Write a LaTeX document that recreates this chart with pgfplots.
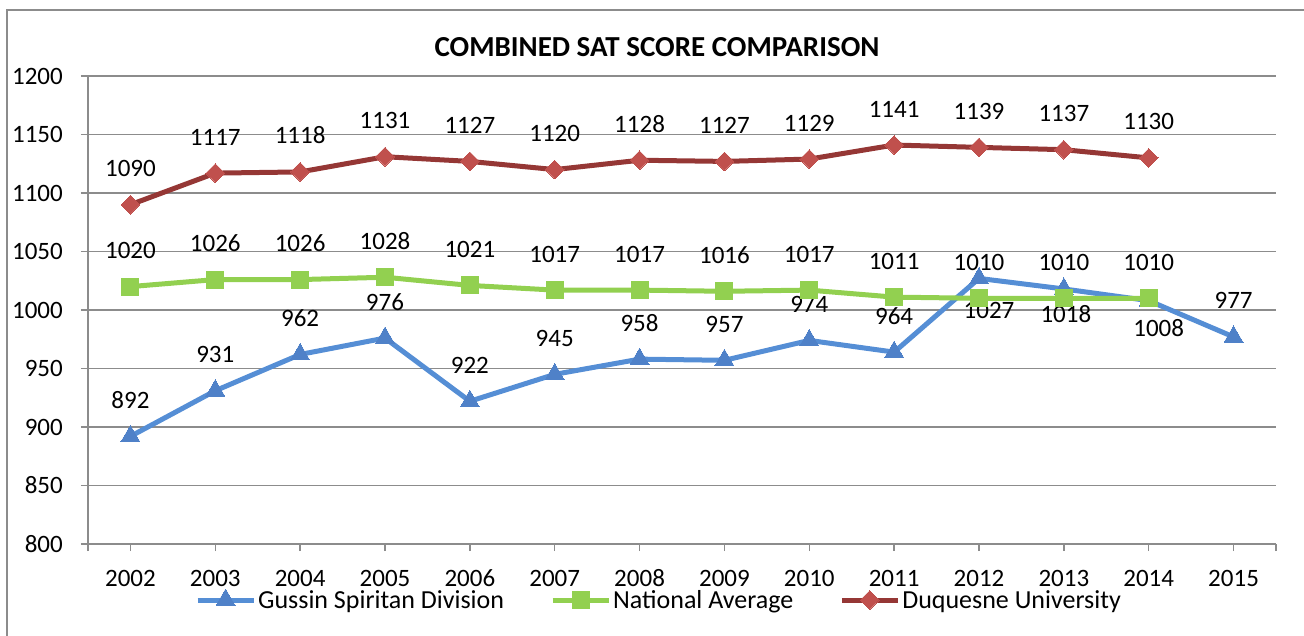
\documentclass[border=0pt]{standalone}
\usepackage{fontspec}
\setmainfont{Carlito}
\usepackage{pgfplots}
\pgfplotsset{compat=1.18}
\usepackage{pgfplotstable}

\definecolor{gridgray}{RGB}{140,140,140}
\definecolor{blueline}{RGB}{85,142,213}
\definecolor{bluemark}{RGB}{79,129,200}
\definecolor{greenc}{RGB}{146,208,80}
\definecolor{redline}{RGB}{149,55,53}
\definecolor{redmark}{RGB}{192,80,77}

\pgfplotstableread{
x y lab dy dx
0 892 892 28 0
1 931 931 28 0
2 962 962 28 0
3 976 976 28 0
4 922 922 28 0
5 945 945 28 0
6 958 958 28 0
7 957 957 28 0
8 974 974 28 0
9 964 964 28 0
10 1027 1027 -40 10
11 1018 1018 -34 2
12 1008 1008 -36 10
13 977 977 28 0
}\gussin

\pgfplotstableread{
x y lab dy dx
0 1020 1020 28 0
1 1026 1026 28 0
2 1026 1026 28 0
3 1028 1028 28 0
4 1021 1021 28 0
5 1017 1017 28 0
6 1017 1017 28 0
7 1016 1016 28 0
8 1017 1017 28 0
9 1011 1011 28 0
10 1010 1010 28 0
11 1010 1010 28 0
12 1010 1010 28 0
}\national

\pgfplotstableread{
x y lab dy dx
0 1090 1090 28 0
1 1117 1117 28 0
2 1118 1118 28 0
3 1131 1131 28 0
4 1127 1127 28 0
5 1120 1120 28 0
6 1128 1128 28 0
7 1127 1127 28 0
8 1129 1129 28 0
9 1141 1141 28 0
10 1139 1139 28 0
11 1137 1137 28 0
12 1130 1130 28 0
}\duquesne

\newcommand{\bigfont}{\fontsize{25}{30}\selectfont}

\begin{document}
\begin{tikzpicture}[x=1pt,y=1pt]
\useasboundingbox (-88,-91) rectangle (1216,544);
\draw[gridgray, line width=1.5pt] (-81,-100) -- (-81,534) -- (1230,534);
\begin{axis}[
  at={(0,0)}, anchor=south west,
  scale only axis, width=1188pt, height=468pt,
  xmin=-0.5, xmax=13.5, ymin=800, ymax=1200,
  ytick={800,850,...,1200},
  xtick={0,...,13},
  xticklabels={2002,2003,2004,2005,2006,2007,2008,2009,2010,2011,2012,2013,2014,2015},
  extra x ticks={-0.5,13.5}, extra x tick labels={},
  axis x line*=bottom, axis y line*=left,
  ymajorgrids,
  grid style={gridgray, line width=1.5pt},
  axis line style={gridgray, line width=1.5pt},
  tick style={gridgray, line width=1.5pt},
  major tick length=7pt, tick align=outside,
  tick label style={font=\bigfont, text=black},
  /pgf/number format/assume math mode=true,
  /pgf/number format/1000 sep={},
  yticklabel style={anchor=east, inner sep=0pt, xshift=-18pt},
  xticklabel style={anchor=base, inner sep=0pt, yshift=-35pt},
  clip=false,
  legend columns=3,
  legend style={draw=none, fill=none, at={(0.4806,-0.1197)}, anchor=center,
    font=\fontsize{26}{30}\selectfont, inner sep=0pt,
    nodes={inner sep=2pt},
    /tikz/every even column/.append style={column sep=44pt}},
  legend cell align=left,
  legend image code/.code={\draw[mark repeat=2,mark phase=2] plot coordinates {(0pt,0pt) (28pt,0pt) (56pt,0pt)};},
  nodes near coords,
  point meta=explicit symbolic,
  visualization depends on={\thisrow{dy}\as\dy},
  visualization depends on={\thisrow{dx}\as\dx},
  every node near coord/.append style={anchor=base, yshift=\dy pt, xshift=\dx pt, font=\bigfont, text=black, inner sep=0pt},
]
\addplot[blueline, line width=5pt, mark=triangle*, mark size=11pt,
  mark options={fill=bluemark, draw=bluemark, line width=0pt}]
  table[x=x, y=y, meta=lab] {\gussin};
\addlegendentry{Gussin Spiritan Division}
\addplot[greenc, line width=5pt, mark=square*, mark size=8.5pt,
  mark options={fill=greenc, draw=greenc, line width=0pt}]
  table[x=x, y=y, meta=lab] {\national};
\addlegendentry{National Average}
\addplot[redline, line width=5pt, mark=square*, mark size=6.6pt,
  mark options={fill=redmark, draw=redmark, line width=0pt, rotate=45}]
  table[x=x, y=y, meta=lab] {\duquesne};
\addlegendentry{Duquesne University}
\end{axis}
\node[font=\fontsize{29}{34}\selectfont\bfseries, anchor=base] at (569,487) {COMBINED SAT SCORE COMPARISON};
\end{tikzpicture}
\end{document}
